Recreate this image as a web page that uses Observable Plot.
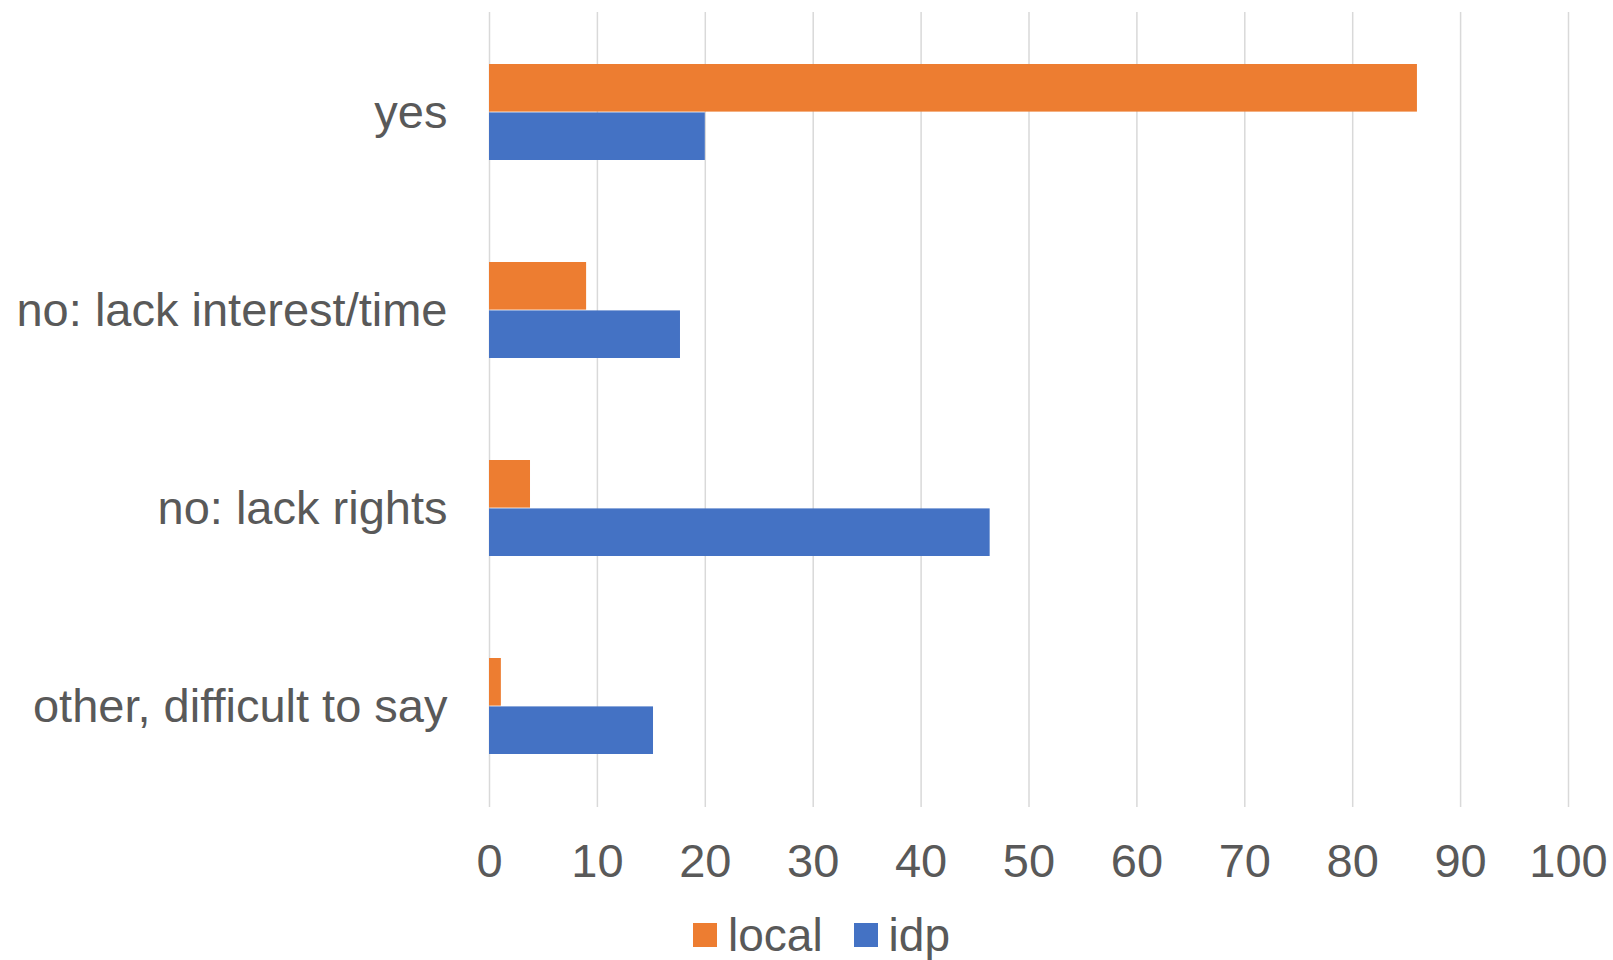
<!DOCTYPE html>
<html>
<head>
<meta charset="utf-8">
<script src="https://cdn.jsdelivr.net/npm/d3@7"></script>
<script src="https://cdn.jsdelivr.net/npm/@observablehq/plot@0.6"></script>
<style>
  html, body { margin: 0; padding: 0; background: #fff; overflow: hidden; }
  #wrap { position: relative; width: 1613px; height: 960px; font-family: "Liberation Sans", Arial, sans-serif; color: #595959; }
  #legend { position: absolute; left: 693px; top: 912px; display: flex; align-items: center; font-size: 46px; line-height: 46px; }
  .sw { width: 24px; height: 24px; display: inline-block; margin-right: 11px; }
  .item { display: flex; align-items: center; margin-right: 31px; }
</style>
</head>
<body>
<div id="wrap"><div id="chart"></div><div id="legend"></div></div>
<script>
const categories = ["yes", "no: lack interest/time", "no: lack rights", "other, difficult to say"];
const localValues = [86, 9, 3.8, 1.1];
const idpValues = [20, 17.7, 46.4, 15.2];
const seriesNames = ["local", "idp"];
const seriesColors = ["#ED7D31", "#4472C4"];
const xTicks = [0, 10, 20, 30, 40, 50, 60, 70, 80, 90, 100];

const rows = [];
categories.forEach((c, i) => {
  rows.push({category: c, series: "local", value: localValues[i]});
  rows.push({category: c, series: "idp", value: idpValues[i]});
});

const height = 905, marginTop = 12, marginBottom = 98;
const padInner = 0.513, padOuter = padInner / 2;
const step = (height - marginTop - marginBottom) / (categories.length - padInner + 2 * padOuter);
const half = step * (1 - padInner) / 2;

const chart = Plot.plot({
  width: 1613,
  height,
  marginTop,
  marginBottom,
  marginLeft: 489,
  marginRight: 45,
  style: {fontSize: "47px", fontFamily: "'Liberation Sans', Arial, sans-serif", color: "#595959", background: "#fff"},
  x: {domain: [0, 100]},
  y: {domain: categories, paddingInner: padInner, paddingOuter: padOuter, align: 0.5},
  color: {domain: seriesNames, range: seriesColors},
  marks: [
    Plot.gridX({ticks: xTicks, stroke: "#d9d9d9", strokeOpacity: 1, strokeWidth: 1.5}),
    Plot.barX(rows.filter(d => d.series === "local"), {x: "value", y: "category", fill: "series", insetBottom: half}),
    Plot.barX(rows.filter(d => d.series === "idp"), {x: "value", y: "category", fill: "series", insetTop: half}),
    Plot.axisX({ticks: xTicks, tickSize: 0, tickPadding: 36, label: null, fill: "#595959"}),
    Plot.axisY({tickSize: 0, tickPadding: 42, label: null, fill: "#595959"})
  ]
});
document.getElementById("chart").appendChild(chart);

const legend = document.getElementById("legend");
seriesNames.forEach((s, i) => {
  const item = document.createElement("div");
  item.className = "item";
  const sw = document.createElement("span");
  sw.className = "sw";
  sw.style.background = seriesColors[i];
  const t = document.createElement("span");
  t.textContent = s;
  item.appendChild(sw);
  item.appendChild(t);
  legend.appendChild(item);
});
</script>
</body>
</html>
